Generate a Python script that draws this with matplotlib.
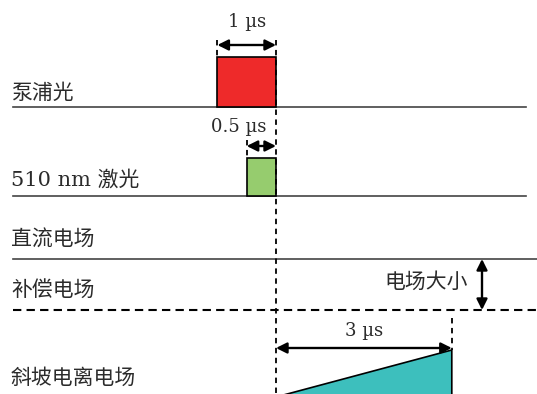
import matplotlib.pyplot as plt
from matplotlib.patches import Polygon, Rectangle

plt.rcParams['font.family'] = ['DejaVu Serif', 'Noto Sans CJK SC']

# timing (µs), t = 0 at the end of the pump pulse
pump_t = [-1.0, 0.0]
laser_t = [-0.5, 0.0]
ramp_t = [0.0, 3.0]
span_labels = ['1 µs', '0.5 µs', '3 µs']
row_labels = ['泵浦光', '510 nm 激光', '直流电场', '补偿电场', '斜坡电离电场']
field_label = '电场大小'

# layout: horizontal scale and row baselines (vertical units = pixels)
PX = 58.6
T0 = 276
def tx(p):
    return (p - T0) / PX

y_pump, y_laser, y_dc, y_comp, y_ramp = 107, 196, 259, 310, 397
h_pump, h_laser, h_ramp = 50, 38, 47

fig = plt.figure(figsize=(5.37, 3.94), dpi=100)
ax = fig.add_axes([0, 0, 1, 1])
ax.set_xlim(tx(0), tx(537))
ax.set_ylim(394, 0)
ax.axis('off')

line_c = '#444444'
txt_c = '#2b2b2b'
fs = 15

# baselines
ax.plot([tx(13), tx(526)], [y_pump, y_pump], color=line_c, lw=1.2)
ax.plot([tx(13), tx(526)], [y_laser, y_laser], color=line_c, lw=1.2)
ax.plot([tx(13), tx(537)], [y_dc, y_dc], color=line_c, lw=1.2)
ax.plot([tx(13), tx(537)], [y_comp, y_comp], color='black', lw=1.5,
        dashes=(4, 2.5))

# pulses
ax.add_patch(Rectangle((pump_t[0], y_pump - h_pump), pump_t[1] - pump_t[0], h_pump,
                       facecolor='#ee2a2a', edgecolor='black', lw=1.2, zorder=3))
ax.add_patch(Rectangle((laser_t[0], y_laser - h_laser), laser_t[1] - laser_t[0], h_laser,
                       facecolor='#96cc6e', edgecolor='black', lw=1.2, zorder=3))
ax.add_patch(Polygon([(ramp_t[0], y_ramp), (ramp_t[1], y_ramp - h_ramp), (ramp_t[1], y_ramp)],
                     closed=True, facecolor='#3dbfbd', edgecolor='black', lw=1.2, zorder=3))

# guide lines
dash_kw = dict(color='black', lw=1.3, dashes=(3, 2.5), zorder=4)
ax.plot([0, 0], [40, 394], **dash_kw)
ax.plot([pump_t[0]] * 2, [40, y_pump - h_pump], **dash_kw)
ax.plot([laser_t[0]] * 2, [140, y_laser - h_laser], **dash_kw)
ax.plot([ramp_t[1]] * 2, [318, y_ramp - h_ramp], **dash_kw)

# span arrows
arr = dict(arrowstyle='<|-|>', color='black', lw=1.7, mutation_scale=16,
           shrinkA=0, shrinkB=0)
spans = [(pump_t, 45, 22), (laser_t, 146, 127), (ramp_t, 348, 331)]
for (t, ya, yt), lab in zip(spans, span_labels):
    ax.annotate('', xy=(t[0], ya), xytext=(t[1], ya), arrowprops=arr, zorder=5)
    xt = (t[0] + t[1]) / 2
    if lab == '0.5 µs':
        xt = tx(239)
    ax.text(xt, yt, lab, ha='center', va='center', fontsize=13, color=txt_c)

# field magnitude arrow
ax.annotate('', xy=(tx(482), y_dc), xytext=(tx(482), y_comp), arrowprops=arr, zorder=5)
ax.text(tx(426), 282, field_label, ha='center', va='center', fontsize=fs, color=txt_c)

# row labels
label_y = [93, 180, 240, 290, 378]
for lab, y in zip(row_labels, label_y):
    ax.text(tx(11), y, lab, ha='left', va='center', fontsize=fs, color=txt_c)

fig.savefig('out.png', dpi=100)
